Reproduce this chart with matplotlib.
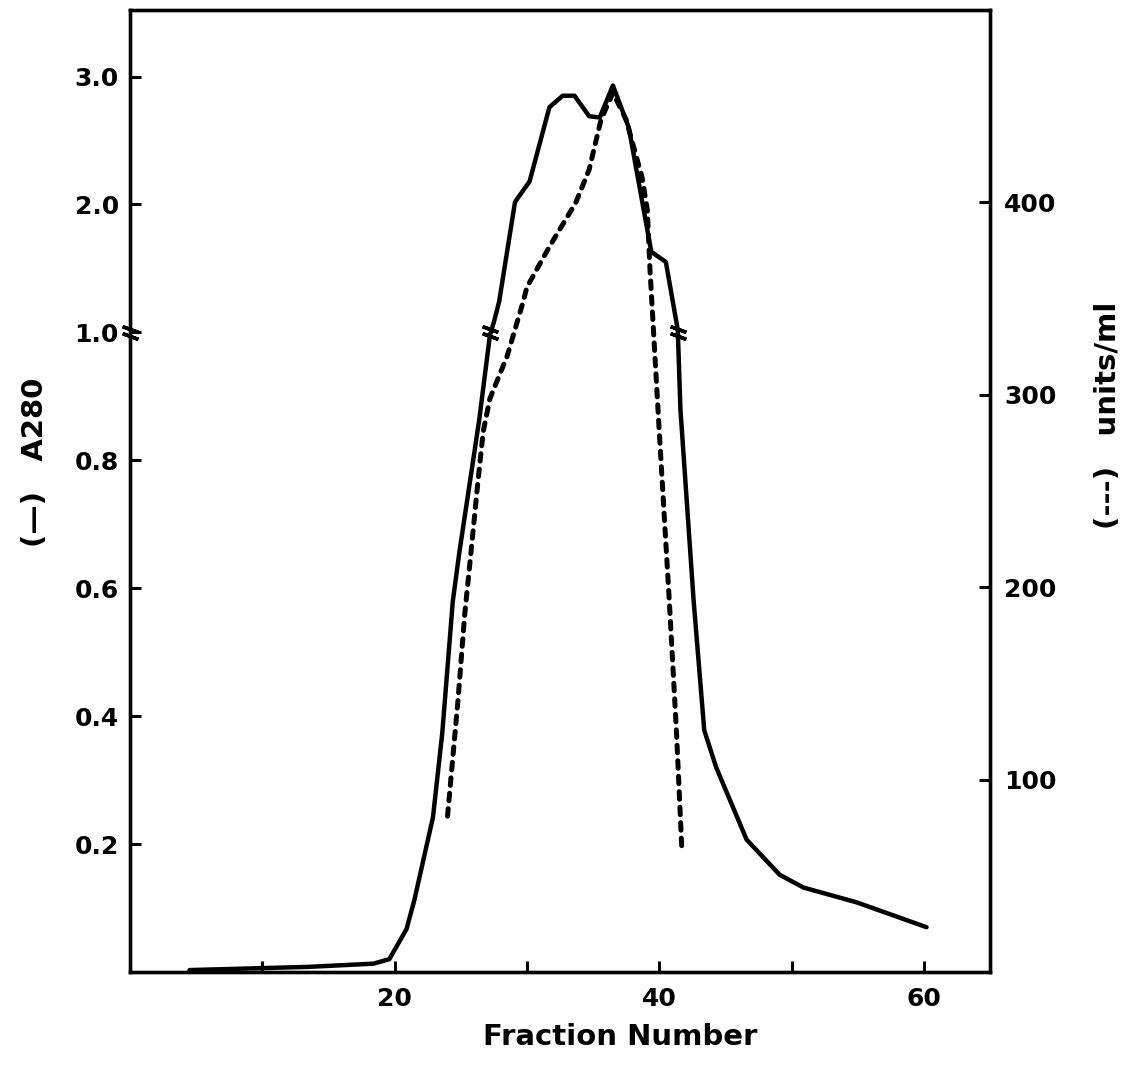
import numpy as np
import matplotlib
matplotlib.use('Agg')
import matplotlib.pyplot as plt
from matplotlib.transforms import ScaledTranslation

# A280 (solid line, left axis, broken at 1.0)
frac_a280 = [4.5, 13.5, 18.4, 19.6, 20.9, 21.5, 22.9, 23.6, 24.4, 24.9, 26.4, 27.2, 27.5, 27.9,
             29.1, 30.2, 31.7, 32.7, 33.6, 34.7, 35.5, 36.5, 37.7, 39.4, 40.5, 41.4,
             41.6, 42.6, 43.4, 44.3, 46.6, 49.1, 50.9, 54.9, 60.2]
a280 = [0.003, 0.008, 0.013, 0.02, 0.067, 0.113, 0.242, 0.373, 0.58, 0.657, 0.864, 0.995, 1.08, 1.24,
        2.02, 2.18, 2.76, 2.85, 2.85, 2.69, 2.68, 2.93, 2.60, 1.63, 1.55, 1.02,
        0.88, 0.58, 0.378, 0.32, 0.207, 0.152, 0.132, 0.109, 0.07]

# activity (dashed line, right axis)
frac_act = [24.0, 24.8, 25.3, 25.8, 26.3, 26.7, 27.2, 28.5, 29.7, 30.0, 31.7, 33.7, 34.7,
            35.6, 36.5, 37.5, 38.7, 39.1, 39.3, 40.0, 40.75, 41.3, 41.7]
units_ml = [81, 142, 186, 220, 255, 281, 298, 320, 348, 356, 377, 400, 417,
            443, 457, 443, 413, 396, 365, 281, 194, 125, 65]

left_ticks = [0.2, 0.4, 0.6, 0.8, 1.0, 2.0, 3.0]
left_labels = ['0.2', '0.4', '0.6', '0.8', '1.0', '2.0', '3.0']
right_ticks = [100, 200, 300, 400]
x_labels = [20, 40, 60]


def fwd(y):
    y = np.asarray(y, float)
    return np.where(y <= 1, y * 5, y + 4)


def inv(v):
    v = np.asarray(v, float)
    return np.where(v <= 5, v / 5, v - 4)


plt.rcParams['font.family'] = 'DejaVu Sans'
plt.rcParams['font.weight'] = 'bold'

fig = plt.figure(figsize=(11.27, 10.68), dpi=100)
ax = fig.add_axes([0.1153, 0.0899, 0.7632, 0.9007])
ax.set_yscale('function', functions=(fwd, inv))
ax.set_xlim(0, 65)
ax.set_ylim(0, 3.52)

ax.plot(frac_a280, a280, color='black', lw=3.2, solid_joinstyle='round', solid_capstyle='round')

ax2 = ax.twinx()
ax2.set_ylim(0, 500)
ax2.plot(frac_act, units_ml, color='black', lw=3.6, linestyle=(0, (1.5, 1.6)),
         dash_capstyle='round')

# break marks where the A280 trace and the axis pass 1.0
cross = [0]
fa = np.array(frac_a280)
ya = np.array(a280)
for i in range(len(ya) - 1):
    if (ya[i] - 1) * (ya[i + 1] - 1) < 0:
        t = (1 - ya[i]) / (ya[i + 1] - ya[i])
        cross.append(fa[i] + t * (fa[i + 1] - fa[i]))
for dy in (-2.5, 2.5):
    tr = ax.transData + ScaledTranslation(0, dy / 72, fig.dpi_scale_trans)
    ax.plot(cross, [1.0] * len(cross), ls='none', marker=(2, 2, 70), ms=12, mew=2.5,
            color='black', transform=tr, clip_on=False)

for a in (ax, ax2):
    for s in a.spines.values():
        s.set_linewidth(2.4)

ax.set_yticks(left_ticks)
ax.set_yticklabels(left_labels)
ax.set_xticks(range(10, 61, 10))
ax.set_xticklabels(['' if v not in x_labels else str(v) for v in range(10, 61, 10)])
ax.minorticks_off()
ax.tick_params(axis='both', direction='in', length=8, width=2.2, labelsize=18, pad=8)
ax.tick_params(axis='x', pad=11)
ax2.set_yticks(right_ticks)
ax2.tick_params(axis='y', direction='in', length=8, width=2.2, labelsize=18, pad=10)

fig.text(620 / 1127, 1 - 1037 / 1068, 'Fraction Number', fontsize=21, fontweight='bold',
         ha='center', va='center')
fig.text(35 / 1127, 1 - 462 / 1068, '(\u2014)   A280', fontsize=21, fontweight='bold',
         rotation=90, ha='center', va='center')
fig.text(1108 / 1127, 1 - 415 / 1068, '(---)   units/ml', fontsize=21, fontweight='bold',
         rotation=90, ha='center', va='center')

fig.savefig('out.png', dpi=100)
